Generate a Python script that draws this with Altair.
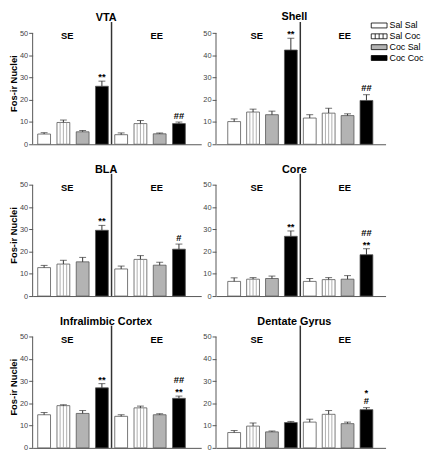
import altair as alt
import pandas as pd

FONT = "Liberation Sans"

groups = ["Sal Sal", "Sal Coc", "Coc Sal", "Coc Coc"]
envs = ["SE", "EE"]
positions = [1, 2, 3, 4, 5, 6, 7, 8]
separator_pos = 4.5
env_label_pos = [2.2, 6.85]
env_label_y = 48.5

regions = ["VTA", "Shell", "BLA", "Core", "Infralimbic Cortex", "Dentate Gyrus"]

# means and SEM, order: SE (Sal Sal, Sal Coc, Coc Sal, Coc Coc), then EE (same)
vta_mean = [4.6, 9.8, 5.6, 26.1, 4.3, 9.3, 4.7, 9.3]
vta_sem = [0.6, 1.1, 0.6, 2.3, 0.8, 1.4, 0.4, 0.7]
shell_mean = [10.2, 14.5, 13.3, 42.4, 11.8, 14.0, 12.9, 19.7]
shell_sem = [1.2, 1.3, 1.6, 5.3, 1.5, 2.2, 0.8, 2.6]
bla_mean = [12.8, 14.4, 15.4, 29.6, 12.2, 16.5, 13.9, 21.1]
bla_sem = [1.0, 1.7, 2.0, 2.2, 1.3, 1.7, 1.3, 2.3]
core_mean = [6.6, 7.6, 7.9, 26.9, 6.6, 7.4, 7.6, 18.6]
core_sem = [1.6, 0.7, 1.1, 2.4, 1.3, 0.9, 1.6, 2.7]
il_mean = [14.9, 19.0, 15.5, 27.0, 14.2, 18.0, 14.9, 22.3]
il_sem = [1.0, 0.4, 1.3, 1.9, 0.7, 0.8, 0.5, 1.0]
dg_mean = [6.9, 9.8, 7.2, 11.4, 11.6, 15.1, 10.9, 17.2]
dg_sem = [0.9, 1.4, 0.4, 0.5, 1.3, 1.7, 0.7, 0.9]

# significance marks: lower line (just above error bar) and upper line
vta_sig_low = ["", "", "", "**", "", "", "", "##"]
vta_sig_up = ["", "", "", "", "", "", "", ""]
shell_sig_low = ["", "", "", "**", "", "", "", "##"]
shell_sig_up = ["", "", "", "", "", "", "", ""]
bla_sig_low = ["", "", "", "**", "", "", "", "#"]
bla_sig_up = ["", "", "", "", "", "", "", ""]
core_sig_low = ["", "", "", "**", "", "", "", "**"]
core_sig_up = ["", "", "", "", "", "", "", "##"]
il_sig_low = ["", "", "", "**", "", "", "", "**"]
il_sig_up = ["", "", "", "", "", "", "", "##"]
dg_sig_low = ["", "", "", "", "", "", "", "#"]
dg_sig_up = ["", "", "", "", "", "", "", "*"]

fill_colors = ["white", "white", "#b3b3b3", "black"]
stroke_colors = ["black", "black", "black", "black"]
rect_path = "M-1.6,-0.5H1.6V0.5H-1.6Z"
stripe_path = rect_path + "M-0.8,-0.5V0.5M0,-0.5V0.5M0.8,-0.5V0.5"
shapes = [rect_path, stripe_path, rect_path, rect_path]
stripe_offsets = [-0.17, 0.0, 0.17]

LEGEND = alt.Legend(
    title=None, orient="none", legendX=160, legendY=-2,
    symbolSize=100, symbolStrokeColor="black", symbolStrokeWidth=0.8,
    symbolOpacity=1, labelFontSize=9, labelFont=FONT,
    labelColor="black", labelOffset=5, rowPadding=0, padding=0)


def panel(name, means, sems, sig_low, sig_up, left, show_legend=False):
    df = pd.DataFrame({
        "pos": positions,
        "group": groups * 2,
        "env": [envs[0]] * 4 + [envs[1]] * 4,
        "mean": means,
        "sem": sems,
        "sig_low": sig_low,
        "sig_up": sig_up,
    })
    df["top"] = df["mean"] + df["sem"]

    xs = alt.Scale(domain=[0.66, 8.9] if left else [0.3, 8.75], nice=False, zero=False)
    ys = alt.Scale(domain=[0, 55], nice=False)
    xaxis = alt.Axis(title=None, labels=False, ticks=False, grid=False,
                     domainColor="#555", domainWidth=1)
    yaxis = alt.Axis(title="Fos-ir Nuclei" if left else None,
                     values=[0, 10, 20, 30, 40, 50], grid=False, domain=False,
                     tickSize=4, tickColor="#555", labelFontSize=7.5,
                     labelColor="#444", labelPadding=1, labelFont=FONT,
                     labelOverlap=False,
                     titleFontSize=9.5, titleFontWeight="bold", titleFont=FONT,
                     titlePadding=1, titleColor="black")
    fill_scale = alt.Scale(domain=groups, range=fill_colors)

    def X(field):
        return alt.X(field, scale=xs, axis=xaxis)

    def Y(field):
        return alt.Y(field, scale=ys, axis=yaxis)

    base = alt.Chart(df)
    bars = base.mark_bar(size=13, stroke="#555", strokeWidth=0.8).encode(
        x=X("pos:Q"),
        y=Y("mean:Q"),
        fill=alt.Fill("group:N", scale=fill_scale, legend=None),
    )

    sdf = df[df["group"] == groups[1]]
    stripe_rows = []
    for _, r in sdf.iterrows():
        for off in stripe_offsets:
            stripe_rows.append({"sx": r["pos"] + off, "mean": r["mean"]})
    stripes = alt.Chart(pd.DataFrame(stripe_rows)).mark_rule(
        color="#9a9a9a", strokeWidth=0.8
    ).encode(x=X("sx:Q"), y=Y("mean:Q"), y2=alt.datum(0))

    err = base.mark_rule(color="#333", strokeWidth=1).encode(
        x=X("pos:Q"), y=Y("mean:Q"), y2="top:Q")
    caps = base.mark_tick(orient="horizontal", size=7, thickness=1, color="#333").encode(
        x=X("pos:Q"), y=Y("top:Q"))

    layers = [bars, stripes, err, caps]

    ann_rows = []
    for _, r in df.iterrows():
        for line, txt in ((0, r["sig_low"]), (1, r["sig_up"])):
            if txt:
                ann_rows.append({"pos": r["pos"], "top": r["top"], "txt": txt,
                                 "line": line, "star": "*" in txt})
    ann = pd.DataFrame(ann_rows)
    dys = {(0, True): -1, (0, False): -3.5, (1, True): -12, (1, False): -13}
    for (line, star), dy in dys.items():
        sub = ann[(ann["line"] == line) & (ann["star"] == star)]
        if len(sub):
            layers.append(alt.Chart(sub).mark_text(
                dy=dy, baseline="alphabetic", fontSize=9.5, fontWeight="bold",
                font=FONT, color="black").encode(
                x=X("pos:Q"), y=Y("top:Q"), text="txt:N"))

    sep = alt.Chart(pd.DataFrame({"s": [separator_pos]})).mark_rule(
        color="#333", strokeWidth=1.5).encode(
        x=X("s:Q"), y=alt.Y(datum=0, scale=ys, axis=yaxis), y2=alt.datum(55))
    env_df = pd.DataFrame({"env": envs, "pos": env_label_pos, "y": [env_label_y] * 2})
    env_txt = alt.Chart(env_df).mark_text(
        fontSize=9.5, fontWeight="bold", font=FONT, color="black").encode(
        x=X("pos:Q"), y=Y("y:Q"), text="env:N")
    yline = alt.Chart(pd.DataFrame({"a": [0]})).mark_rule(
        color="#555", strokeWidth=1).encode(
        x=alt.value(0), y=alt.Y(datum=0, scale=ys, axis=yaxis), y2=alt.datum(50))
    layers += [sep, env_txt, yline]

    if show_legend:
        leg = base.transform_filter("datum.pos < 0").mark_point(
            filled=True, opacity=1, clip=True, strokeWidth=0.8).encode(
            x=X("pos:Q"), y=Y("mean:Q"),
            fill=alt.Fill("group:N", scale=fill_scale, legend=LEGEND),
            stroke=alt.Stroke("group:N", scale=alt.Scale(domain=groups, range=stroke_colors),
                              legend=LEGEND),
            shape=alt.Shape("group:N", scale=alt.Scale(domain=groups, range=shapes),
                            legend=LEGEND),
        )
        layers.append(leg)

    out = alt.layer(*layers).properties(
        width=171 if left else 172, height=124,
        title=alt.TitleParams(name, fontSize=11, fontWeight="bold", font=FONT,
                              color="black", offset=-2, anchor="middle",
                              frame="group", dx=-11 if left else -6.5),
    )
    if show_legend:
        out = out.resolve_legend(fill="independent", shape="independent",
                                 stroke="independent")
    return out


p1 = panel(regions[0], vta_mean, vta_sem, vta_sig_low, vta_sig_up, True)
p2 = panel(regions[1], shell_mean, shell_sem, shell_sig_low, shell_sig_up, False, True)
p3 = panel(regions[2], bla_mean, bla_sem, bla_sig_low, bla_sig_up, True)
p4 = panel(regions[3], core_mean, core_sem, core_sig_low, core_sig_up, False)
p5 = panel(regions[4], il_mean, il_sem, il_sig_low, il_sig_up, True)
p6 = panel(regions[5], dg_mean, dg_sem, dg_sig_low, dg_sig_up, False)

chart = alt.concat(p1, p2, p3, p4, p5, p6, columns=2, padding=0, bounds="flush",
                   spacing=alt.RowColnumber(row=30, column=15)).resolve_scale(
    x="independent", y="independent", fill="independent", shape="independent",
    stroke="independent"
).configure_view(stroke=None)

chart.save("out.html", embed_options={"renderer": "svg", "actions": False})
